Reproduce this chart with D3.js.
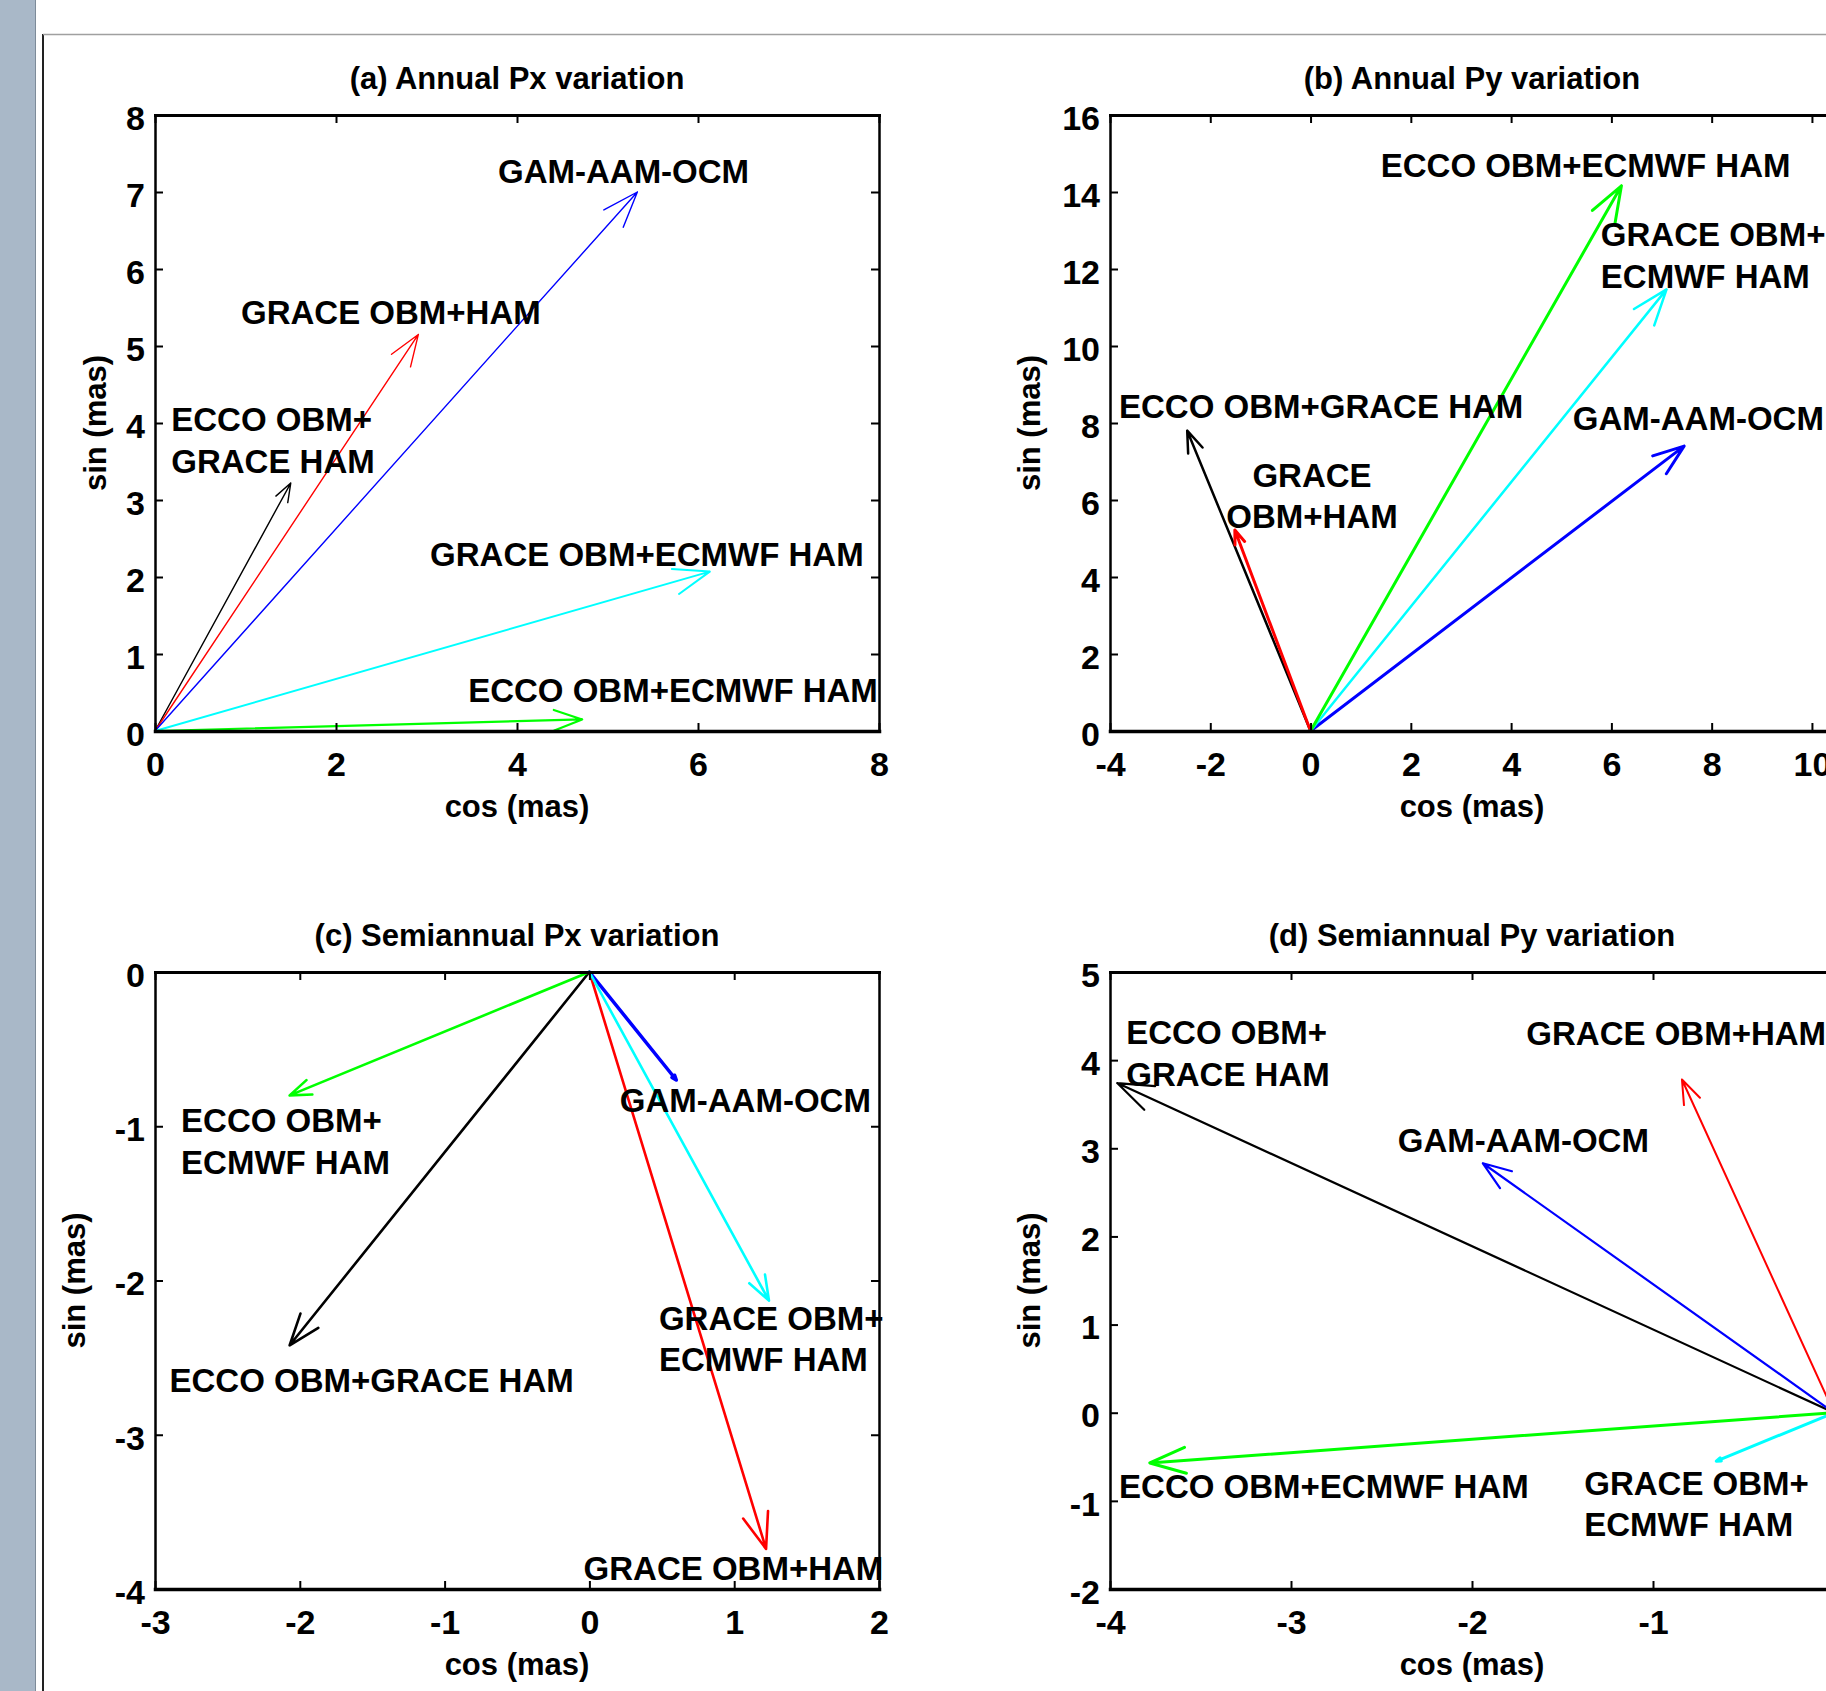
<!DOCTYPE html>
<html lang="en">
<head>
<meta charset="UTF-8">
<title>Annual and semiannual polar motion phasors</title>
<script src="https://d3js.org/d3.v7.min.js"></script>
<style>
  body { margin: 0; background: #fff; overflow: hidden; }
  svg text { font-family: "Liberation Sans", Arial, Helvetica, sans-serif; font-weight: bold; fill: #000; }
</style>
</head>
<body>
<svg id="canvas"></svg>
<script>
// series shown in every panel (same order everywhere)
let seriesNames = ['ECCO OBM+GRACE HAM', 'GRACE OBM+HAM', 'GAM-AAM-OCM', 'GRACE OBM+ECMWF HAM', 'ECCO OBM+ECMWF HAM']

// phasor components (cos, sin) in mas
let annualPxCos = [1.50, 2.91, 5.33, 6.13, 4.72]
let annualPxSin = [3.22, 5.15, 7.00, 2.07, 0.15]

let annualPyCos = [-2.46, -1.51, 7.45, 7.10, 6.20]
let annualPySin = [7.80, 5.22, 7.40, 11.47, 14.16]

let semiPxCos = [-2.07, 1.22, 0.60, 1.24, -2.07]
let semiPxSin = [-2.42, -3.74, -0.70, -2.13, -0.80]

let semiPyCos = [-3.96, -0.84, -1.94, -0.65, -3.78]
let semiPySin = [3.74, 3.78, 2.83, -0.55, -0.57]

// tick values
let ticksAx = [0, 2, 4, 6, 8]
let ticksAy = [0, 1, 2, 3, 4, 5, 6, 7, 8]
let ticksBx = [-4, -2, 0, 2, 4, 6, 8, 10]
let ticksBy = [0, 2, 4, 6, 8, 10, 12, 14, 16]
let ticksCx = [-3, -2, -1, 0, 1, 2]
let ticksCy = [-4, -3, -2, -1, 0]
let ticksDx = [-4, -3, -2, -1]
let ticksDy = [-2, -1, 0, 1, 2, 3, 4, 5]

let titles = ['(a) Annual Px variation', '(b) Annual Py variation', '(c) Semiannual Px variation', '(d) Semiannual Py variation']

let colors = ['#000000', '#ff0000', '#0000ff', '#00ffff', '#00ff00']

let width = 1826
let height = 1691

let svg = d3.select('#canvas')
svg.attr('width', width).attr('height', height)

// window frame around the figure
svg.append('rect').attr('x', 0).attr('y', 0).attr('width', 35).attr('height', height).attr('fill', '#a9b8c8')
svg.append('line').attr('x1', 35.5).attr('x2', 35.5).attr('y1', 0).attr('y2', height).attr('stroke', '#7d8b99').attr('stroke-width', 1)
svg.append('line').attr('x1', 43).attr('x2', 43).attr('y1', 34).attr('y2', height).attr('stroke', '#222').attr('stroke-width', 2)
svg.append('line').attr('x1', 43).attr('x2', width).attr('y1', 34.5).attr('y2', 34.5).attr('stroke', '#a0a0a0').attr('stroke-width', 1.5)

let panels = [
  {title: titles[0], cos: annualPxCos, sin: annualPxSin, xDomain: [0, 8], yDomain: [0, 8], xTicks: ticksAx, yTicks: ticksAy,
   left: 155, top: 115, w: 724, h: 616, ylab: 106, widths: [1.4, 1.4, 1.4, 2, 2.2],
   labels: [
     {s: 2, x: 3.79, y: 7.12},
     {s: 1, x: 0.95, y: 5.29},
     {s: 0, x: 0.18, y: 3.89, brk: '+'},
     {s: 3, x: 3.04, y: 2.14},
     {s: 4, x: 3.46, y: 0.38}
   ]},
  {title: titles[1], cos: annualPyCos, sin: annualPySin, xDomain: [-4, 10.44], yDomain: [0, 16], xTicks: ticksBx, yTicks: ticksBy,
   left: 1110, top: 115, w: 724, h: 616, ylab: 1040, widths: [2.5, 3, 3, 2.5, 3],
   labels: [
     {s: 4, x: 1.40, y: 14.40},
     {s: 3, x: 5.79, y: 12.59, brk: '+'},
     {s: 2, x: 5.23, y: 7.83},
     {s: 0, x: -3.82, y: 8.14},
     {s: 1, x: 0.03, y: 6.35, brk: ' ', anchor: 'middle'}
   ]},
  {title: titles[2], cos: semiPxCos, sin: semiPxSin, xDomain: [-3, 2], yDomain: [-4, 0], xTicks: ticksCx, yTicks: ticksCy,
   left: 155, top: 972, w: 724, h: 617, ylab: 85, widths: [2.6, 2.6, 3.5, 2.6, 2.6],
   labels: [
     {s: 2, x: 0.21, y: -0.91},
     {s: 4, x: -2.82, y: -1.04, brk: '+'},
     {s: 0, x: -2.90, y: -2.72},
     {s: 3, x: 0.48, y: -2.32, brk: '+'},
     {s: 1, x: -0.04, y: -3.94}
   ]},
  {title: titles[3], cos: semiPyCos, sin: semiPySin, xDomain: [-4, 0], yDomain: [-2, 5], xTicks: ticksDx, yTicks: ticksDy,
   left: 1110, top: 972, w: 724, h: 617, ylab: 1040, widths: [2.2, 2, 2.2, 3, 3],
   labels: [
     {s: 0, x: -3.91, y: 4.18, brk: '+'},
     {s: 1, x: -1.70, y: 4.17},
     {s: 2, x: -2.41, y: 2.96},
     {s: 4, x: -3.95, y: -0.97},
     {s: 3, x: -1.38, y: -0.93, brk: '+'}
   ]}
]

let splitName = (name, brk) => {
  if (brk === '+') {
    let i = name.indexOf('+') + 1
    return [name.slice(0, i), name.slice(i)]
  }
  if (brk === ' ') {
    let i = name.indexOf(' ')
    return [name.slice(0, i), name.slice(i + 1)]
  }
  return [name]
}

let styleAxis = (g, domainWidth) => {
  g.select('.domain').attr('stroke-width', domainWidth).attr('stroke-linecap', 'square')
  g.selectAll('.tick line').attr('stroke-width', 2)
  g.selectAll('text').attr('font-size', 34)
}

let makePanel = (p) => {
  let xScale = d3.scaleLinear().domain(p.xDomain).range([p.left, p.left + p.w])
  let yScale = d3.scaleLinear().domain(p.yDomain).range([p.top + p.h, p.top])

  let g = svg.append('g')

  // arrows first, frame on top
  let arrows = g.append('g')
  p.cos.forEach((c, i) => {
    let x0 = xScale(0), y0 = yScale(0)
    let x1 = xScale(c), y1 = yScale(p.sin[i])
    let dx = x1 - x0, dy = y1 - y0
    let len = Math.sqrt(dx * dx + dy * dy)
    let head = len < 180 ? 5 : Math.min(38, 0.07 * len)
    let ang = Math.atan2(dy, dx)
    let a = 20 * Math.PI / 180
    let hx1 = x1 - head * Math.cos(ang - a), hy1 = y1 - head * Math.sin(ang - a)
    let hx2 = x1 - head * Math.cos(ang + a), hy2 = y1 - head * Math.sin(ang + a)
    arrows.append('path')
      .attr('d', `M${x0},${y0}L${x1},${y1}M${hx1},${hy1}L${x1},${y1}L${hx2},${hy2}`)
      .attr('fill', 'none')
      .attr('stroke', colors[i])
      .attr('stroke-width', p.widths[i])
      .attr('stroke-linejoin', 'round')
      .attr('stroke-linecap', 'round')
  })

  let bottom = g.append('g')
    .attr('transform', 'translate(0,' + (p.top + p.h) + ')')
    .call(d3.axisBottom(xScale).tickValues(p.xTicks).tickSizeInner(-8).tickSizeOuter(0).tickPadding(21).tickFormat(d => d))
  styleAxis(bottom, 3.5)

  let top = g.append('g')
    .attr('transform', 'translate(0,' + p.top + ')')
    .call(d3.axisTop(xScale).tickValues(p.xTicks).tickSizeInner(-8).tickSizeOuter(0).tickFormat(''))
  styleAxis(top, 3)

  let left = g.append('g')
    .attr('transform', 'translate(' + p.left + ',0)')
    .call(d3.axisLeft(yScale).tickValues(p.yTicks).tickSizeInner(-8).tickSizeOuter(0).tickPadding(10).tickFormat(d => d))
  styleAxis(left, 2.5)
  left.selectAll('text').attr('dy', '0.42em')

  let right = g.append('g')
    .attr('transform', 'translate(' + (p.left + p.w) + ',0)')
    .call(d3.axisRight(yScale).tickValues(p.yTicks).tickSizeInner(-8).tickSizeOuter(0).tickFormat(''))
  styleAxis(right, 2.5)

  // titles and axis names
  g.append('text')
    .attr('x', p.left + p.w / 2).attr('y', p.top - 26)
    .attr('text-anchor', 'middle').attr('font-size', 31)
    .text(p.title)
  g.append('text')
    .attr('x', p.left + p.w / 2).attr('y', p.top + p.h + 86)
    .attr('text-anchor', 'middle').attr('font-size', 31)
    .text('cos (mas)')
  g.append('text')
    .attr('transform', 'translate(' + p.ylab + ',' + (p.top + p.h / 2) + ') rotate(-90)')
    .attr('text-anchor', 'middle').attr('font-size', 31)
    .text('sin (mas)')

  // series labels
  p.labels.forEach(l => {
    let t = g.append('text')
      .attr('x', xScale(l.x)).attr('y', yScale(l.y))
      .attr('text-anchor', l.anchor || 'start')
      .attr('font-size', 33)
    splitName(seriesNames[l.s], l.brk).forEach((line, k) => {
      t.append('tspan').attr('x', xScale(l.x)).attr('dy', k === 0 ? 0 : 41.5).text(line)
    })
  })
}

panels.forEach(makePanel)
</script>
</body>
</html>
